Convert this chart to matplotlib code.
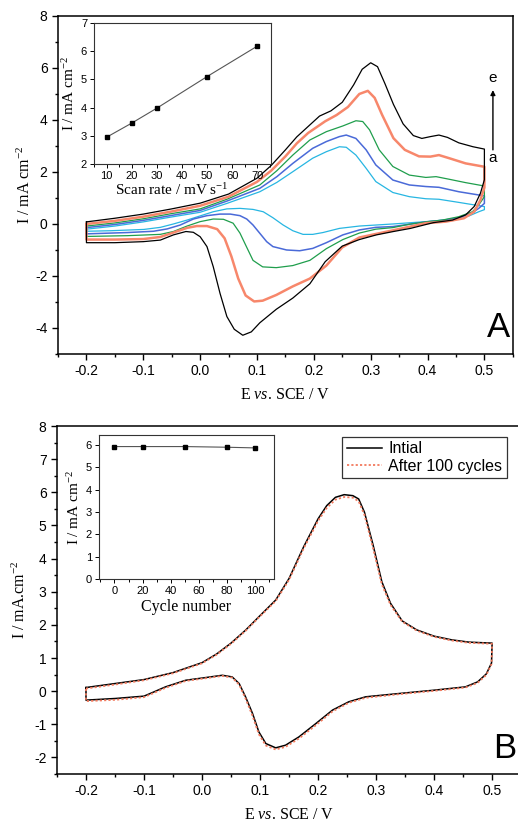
import matplotlib
matplotlib.use("Agg")
import matplotlib.pyplot as plt
import matplotlib.ticker as mticker

plt.rcParams["font.family"] = "Liberation Sans"
plt.rcParams["mathtext.fontset"] = "custom"
plt.rcParams["mathtext.rm"] = "Liberation Serif"
plt.rcParams["mathtext.it"] = "Liberation Serif:italic"
plt.rcParams["axes.unicode_minus"] = False

SERIF = "Liberation Serif"

# ─── PANEL A: CVs at different scan rates (a..e) ─────────────────────────────
e_E = [-0.2, -0.15, -0.1, -0.05, 0.0, 0.05, 0.1, 0.125, 0.15, 0.17, 0.19, 0.21, 0.23,
       0.25, 0.27, 0.285, 0.30, 0.312, 0.325, 0.34, 0.357, 0.375, 0.39, 0.405, 0.42,
       0.435, 0.455, 0.48, 0.5,
       0.5, 0.493, 0.482, 0.467, 0.444, 0.41, 0.37, 0.34, 0.31, 0.28, 0.25, 0.22, 0.193,
       0.163, 0.134, 0.105, 0.09, 0.075, 0.06, 0.047, 0.035, 0.023, 0.012, 0.0, -0.012,
       -0.025, -0.047, -0.07, -0.1, -0.15, -0.2, -0.2]
e_I = [0.08, 0.22, 0.38, 0.58, 0.8, 1.15, 1.76, 2.25, 2.85, 3.35, 3.75, 4.15, 4.35,
       4.68, 5.35, 5.95, 6.2, 6.05, 5.4, 4.6, 3.85, 3.4, 3.29, 3.36, 3.42,
       3.33, 3.12, 2.97, 2.88,
       1.7, 1.18, 0.67, 0.35, 0.15, 0.05, -0.17, -0.29, -0.42, -0.6, -0.85, -1.45, -2.3,
       -2.85, -3.28, -3.8, -4.15, -4.28, -4.05, -3.56, -2.67, -1.64, -0.87, -0.49, -0.32,
       -0.29, -0.42, -0.62, -0.68, -0.72, -0.72, 0.08]

d_E = [-0.2, -0.15, -0.1, -0.05, 0.0, 0.05, 0.1, 0.125, 0.15, 0.17, 0.19, 0.22, 0.24,
       0.26, 0.28, 0.295, 0.307, 0.32, 0.34, 0.36, 0.385, 0.405, 0.42, 0.438, 0.467, 0.5,
       0.5, 0.493, 0.482, 0.464, 0.432, 0.397, 0.34, 0.28, 0.25, 0.222, 0.193, 0.163,
       0.134, 0.11, 0.095, 0.08, 0.067, 0.055, 0.043, 0.03, 0.012, -0.006, -0.023,
       -0.047, -0.07, -0.1, -0.15, -0.2, -0.2]
d_I = [0.0, 0.12, 0.28, 0.48, 0.7, 1.05, 1.62, 2.05, 2.6, 3.1, 3.5, 3.95, 4.19,
       4.5, 5.0, 5.12, 4.85, 4.2, 3.3, 2.85, 2.6, 2.59, 2.65, 2.53, 2.33, 2.2,
       1.4, 0.92, 0.47, 0.22, 0.09, 0.03, -0.24, -0.52, -0.9, -1.6, -2.1, -2.4,
       -2.73, -2.95, -2.98, -2.75, -2.1, -1.25, -0.55, -0.2, -0.08, -0.08, -0.15,
       -0.33, -0.5, -0.58, -0.6, -0.6, 0.0]

c_E = [-0.2, -0.15, -0.1, -0.05, 0.0, 0.047, 0.105, 0.135, 0.163, 0.193, 0.222, 0.251,
       0.274, 0.286, 0.298, 0.315, 0.339, 0.368, 0.397, 0.415, 0.438, 0.467, 0.5,
       0.5, 0.49, 0.479, 0.455, 0.426, 0.397, 0.368, 0.339, 0.309, 0.28, 0.251, 0.222,
       0.193, 0.163, 0.134, 0.11, 0.093, 0.082, 0.07, 0.058, 0.041, 0.023, 0.0, -0.023,
       -0.047, -0.07, -0.128, -0.2, -0.2]
c_I = [-0.08, 0.04, 0.2, 0.4, 0.58, 0.95, 1.5, 2.05, 2.65, 3.23, 3.55, 3.77,
       3.97, 3.94, 3.62, 2.85, 2.21, 1.88, 1.79, 1.82, 1.72, 1.59, 1.46,
       1.05, 0.73, 0.47, 0.28, 0.15, 0.08, -0.01, -0.14, -0.2, -0.35, -0.6, -0.95,
       -1.4, -1.6, -1.68, -1.65, -1.4, -0.9, -0.35, 0.03, 0.18, 0.19, 0.09, -0.08,
       -0.29, -0.4, -0.45, -0.48, -0.08]

b_E = [-0.2, -0.15, -0.1, -0.05, 0.0, 0.047, 0.105, 0.135, 0.163, 0.198, 0.222, 0.245,
       0.257, 0.274, 0.292, 0.309, 0.339, 0.368, 0.397, 0.42, 0.455, 0.5,
       0.5, 0.49, 0.479, 0.455, 0.426, 0.397, 0.339, 0.309, 0.28, 0.251, 0.222, 0.198,
       0.175, 0.152, 0.128, 0.117, 0.105, 0.093, 0.082, 0.07, 0.053, 0.035, 0.012,
       -0.012, -0.035, -0.058, -0.082, -0.128, -0.2, -0.2]
b_I = [-0.14, -0.02, 0.14, 0.33, 0.52, 0.88, 1.37, 1.82, 2.33, 2.91, 3.17, 3.36,
       3.42, 3.29, 2.85, 2.27, 1.69, 1.5, 1.44, 1.41, 1.24, 1.08,
       0.79, 0.6, 0.44, 0.24, 0.14, 0.08, -0.1, -0.13, -0.23, -0.42, -0.72, -0.94,
       -1.03, -1.0, -0.87, -0.68, -0.36, -0.04, 0.19, 0.32, 0.38, 0.38, 0.32,
       0.19, -0.04, -0.19, -0.28, -0.33, -0.38, -0.14]

a_E = [-0.2, -0.15, -0.1, -0.05, 0.0, 0.047, 0.105, 0.135, 0.163, 0.198, 0.222, 0.245,
       0.257, 0.274, 0.292, 0.309, 0.339, 0.368, 0.397, 0.42, 0.455, 0.5,
       0.5, 0.49, 0.473, 0.444, 0.397, 0.339, 0.28, 0.245, 0.216, 0.198, 0.181, 0.163,
       0.146, 0.128, 0.111, 0.093, 0.07, 0.047, 0.023, 0.0, -0.023, -0.047, -0.07,
       -0.099, -0.158, -0.2, -0.2]
a_I = [-0.2, -0.08, 0.08, 0.27, 0.45, 0.79, 1.24, 1.6, 2.01, 2.53, 2.78, 2.97,
       2.95, 2.65, 2.14, 1.63, 1.21, 1.05, 0.97, 0.95, 0.83, 0.67,
       0.55, 0.47, 0.31, 0.18, 0.09, 0.0, -0.08, -0.17, -0.33, -0.4, -0.4, -0.26,
       -0.04, 0.24, 0.47, 0.56, 0.6, 0.58, 0.47, 0.31, 0.15, 0.0, -0.13,
       -0.21, -0.26, -0.28, -0.2]

cv_curves = [(a_E, a_I), (b_E, b_I), (c_E, c_I), (d_E, d_I), (e_E, e_I)]
cv_colors = ["#27b6e2", "#4a6ad8", "#1f9e4c", "#f7876b", "#000000"]
cv_widths = [0.9, 1.1, 0.9, 1.8, 0.9]

scan_rate = [10, 20, 30, 50, 70]
peak_current = [2.95, 3.45, 3.98, 5.1, 6.18]

# ─── PANEL B: stability, initial vs after 100 cycles ─────────────────────────
init_E = [-0.2, -0.15, -0.1, -0.05, 0.0, 0.025, 0.05, 0.075, 0.1, 0.127, 0.15, 0.175,
          0.2, 0.215, 0.23, 0.245, 0.26, 0.27, 0.28, 0.295, 0.31, 0.325, 0.345, 0.37,
          0.4, 0.43, 0.46, 0.5,
          0.499, 0.49, 0.475, 0.454, 0.4, 0.34, 0.282, 0.253, 0.225, 0.196, 0.167, 0.144,
          0.127, 0.11, 0.098, 0.087, 0.075, 0.064, 0.052, 0.035, 0.006, -0.028,
          -0.063, -0.08, -0.1, -0.149, -0.2, -0.2]
init_I = [0.11, 0.23, 0.35, 0.56, 0.86, 1.12, 1.45, 1.84, 2.28, 2.75, 3.4, 4.35,
          5.2, 5.6, 5.85, 5.93, 5.9, 5.8, 5.4, 4.4, 3.3, 2.65, 2.12, 1.85,
          1.66, 1.55, 1.48, 1.45,
          0.85, 0.52, 0.28, 0.13, 0.03, -0.07, -0.17, -0.32, -0.57, -0.98, -1.38, -1.63,
          -1.71, -1.58, -1.23, -0.67, -0.17, 0.23, 0.43, 0.48, 0.41, 0.33,
          0.13, 0.0, -0.15, -0.22, -0.27, 0.11]

cyc_E = [-0.2, -0.15, -0.1, -0.05, 0.0, 0.025, 0.05, 0.075, 0.1, 0.127, 0.15, 0.175,
         0.2, 0.215, 0.23, 0.245, 0.26, 0.27, 0.28, 0.295, 0.31, 0.325, 0.345, 0.37,
         0.4, 0.43, 0.46, 0.5,
         0.499, 0.49, 0.475, 0.454, 0.4, 0.34, 0.282, 0.253, 0.225, 0.196, 0.167, 0.144,
         0.127, 0.11, 0.098, 0.087, 0.075, 0.064, 0.052, 0.035, 0.006, -0.028,
         -0.063, -0.08, -0.1, -0.149, -0.2, -0.2]
cyc_I = [0.08, 0.2, 0.33, 0.54, 0.84, 1.1, 1.43, 1.82, 2.26, 2.72, 3.36, 4.3,
         5.14, 5.53, 5.78, 5.86, 5.84, 5.73, 5.32, 4.3, 3.22, 2.6, 2.1, 1.83,
         1.64, 1.53, 1.46, 1.43,
         0.82, 0.49, 0.25, 0.11, 0.01, -0.09, -0.2, -0.35, -0.61, -1.03, -1.43, -1.68,
         -1.76, -1.64, -1.3, -0.74, -0.22, 0.2, 0.41, 0.46, 0.39, 0.31,
         0.1, -0.03, -0.18, -0.26, -0.3, 0.08]

cycle_no = [0, 20, 50, 80, 100]
cycle_current = [5.93, 5.93, 5.93, 5.9, 5.87]


def style_main(ax):
    ax.tick_params(which="both", direction="out", width=1.0, labelsize=10,
                   top=False, right=False, pad=3)
    ax.tick_params(which="major", length=4.5)
    ax.tick_params(which="minor", length=2.5)
    for s in ax.spines.values():
        s.set_linewidth(1.1)
    ax.xaxis.set_major_locator(mticker.MultipleLocator(0.1))
    ax.xaxis.set_minor_locator(mticker.MultipleLocator(0.05))
    ax.xaxis.set_major_formatter(mticker.FormatStrFormatter("%.1f"))
    ax.set_xlabel(r"E $\it{vs}$. SCE / V", fontfamily=SERIF, fontsize=11.5,
                  labelpad=6)


def style_inset(ax):
    ax.tick_params(which="both", direction="out", width=0.7, labelsize=8,
                   top=False, right=False, pad=2)
    ax.tick_params(which="major", length=3)
    ax.tick_params(which="minor", length=1.8)
    for s in ax.spines.values():
        s.set_linewidth(0.8)
        s.set_color("#333333")


fig = plt.figure(figsize=(5.18, 8.23), dpi=100)

# Panel A
axA = fig.add_axes([0.112, 0.5699, 0.878, 0.4107])
for (E, I), col, lw in zip(cv_curves, cv_colors, cv_widths):
    axA.plot(E, I, color=col, lw=lw)
axA.set_xlim(-0.25, 0.55)
axA.set_ylim(-5, 8)
axA.yaxis.set_major_locator(mticker.MultipleLocator(2))
axA.yaxis.set_minor_locator(mticker.MultipleLocator(1))
style_main(axA)
axA.set_ylabel(r"I / mA cm$^{-2}$", fontfamily=SERIF, fontsize=11.5, labelpad=1)
axA.text(0.968, 0.05, "A", transform=axA.transAxes, ha="center", va="baseline",
         fontsize=25)
axA.annotate("", xy=(0.515, 5.15), xytext=(0.515, 2.85),
             arrowprops=dict(arrowstyle="-|>", color="black", lw=1.0,
                             mutation_scale=7, shrinkA=0, shrinkB=0))
axA.text(0.515, 5.6, "e", ha="center", va="center", fontsize=11)
axA.text(0.515, 2.55, "a", ha="center", va="center", fontsize=11)

insA = fig.add_axes([0.1815, 0.8007, 0.3417, 0.1713])
insA.plot(scan_rate, peak_current, color="#555555", lw=0.8, marker="s",
          markersize=3, markerfacecolor="black", markeredgecolor="black")
insA.set_xlim(5, 75.5)
insA.set_ylim(2, 7)
insA.xaxis.set_major_locator(mticker.MultipleLocator(10))
insA.xaxis.set_minor_locator(mticker.MultipleLocator(5))
insA.yaxis.set_major_locator(mticker.MultipleLocator(1))
style_inset(insA)
insA.set_xlabel(r"Scan rate / mV s$^{-1}$", fontfamily=SERIF, fontsize=11)
insA.xaxis.set_label_coords(0.44, -0.13)
insA.set_ylabel(r"I / mA cm$^{-2}$", fontfamily=SERIF, fontsize=11, labelpad=3)

# Panel B
axB = fig.add_axes([0.110, 0.0595, 0.896, 0.4228])
axB.plot(init_E, init_I, color="black", lw=1.1, label="Intial")
axB.plot(cyc_E, cyc_I, color="#f27a5e", lw=1.3, ls=(0, (1.2, 1.2)),
         label="After 100 cycles")
axB.set_xlim(-0.25, 0.55)
axB.set_ylim(-2.5, 8)
axB.yaxis.set_major_locator(mticker.MultipleLocator(1))
axB.yaxis.set_minor_locator(mticker.MultipleLocator(0.5))
style_main(axB)
axB.set_ylabel(r"I / mA.cm$^{-2}$", fontfamily=SERIF, fontsize=11.5, labelpad=4)
axB.text(0.9655, 0.047, "B", transform=axB.transAxes, ha="center", va="baseline",
         fontsize=25)
leg = axB.legend(loc="upper right", bbox_to_anchor=(0.97, 0.97), fontsize=11.5,
                 frameon=True, fancybox=False, edgecolor="black",
                 handlelength=2.2, handletextpad=0.4, borderpad=0.3,
                 labelspacing=0.15, borderaxespad=0)
leg.get_frame().set_linewidth(0.9)

insB = fig.add_axes([0.1911, 0.2965, 0.3378, 0.175])
insB.plot(cycle_no, cycle_current, color="#555555", lw=0.8, marker="s",
          markersize=3, markerfacecolor="black", markeredgecolor="black")
insB.set_xlim(-11, 113.5)
insB.set_ylim(0, 6.45)
insB.xaxis.set_major_locator(mticker.MultipleLocator(20))
insB.xaxis.set_minor_locator(mticker.MultipleLocator(10))
insB.yaxis.set_major_locator(mticker.MultipleLocator(1))
style_inset(insB)
insB.set_xlabel("Cycle number", fontfamily=SERIF, fontsize=11.5, labelpad=2)
insB.set_ylabel(r"I / mA cm$^{-2}$", fontfamily=SERIF, fontsize=11, labelpad=3)

fig.savefig("out.png", dpi=100)
